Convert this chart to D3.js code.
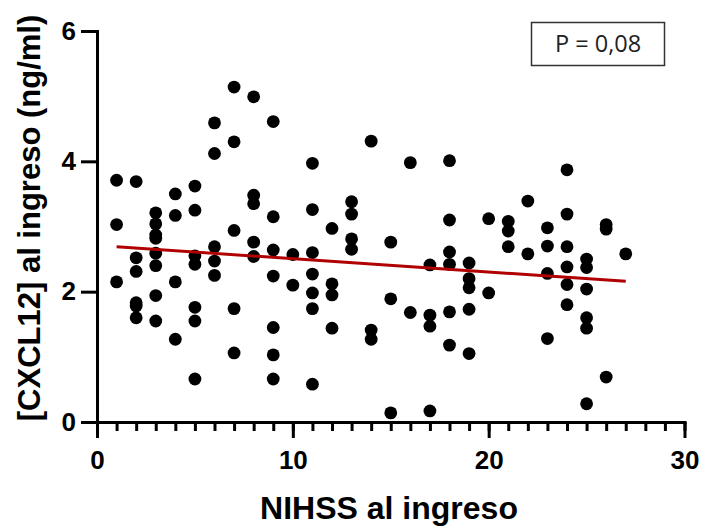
<!DOCTYPE html>
<html>
<head>
<meta charset="utf-8">
<script src="https://cdn.jsdelivr.net/npm/d3@7"></script>
<style>
  body { margin: 0; background: #fff; }
  svg { display: block; }
  .axis text { font-family: "Liberation Sans", Arial, sans-serif; font-weight: bold; font-size: 26px; fill: #000; }
  .axis path, .axis line { stroke: #000; stroke-width: 3; }
</style>
</head>
<body>
<div id="chart"></div>
<script>
// NIHSS score for each patient (x) and its CXCL12 level (y)
var nihss = [
  1, 1, 1,
  2, 2, 2, 2, 2, 2,
  3, 3, 3, 3, 3, 3, 3, 3,
  4, 4, 4, 4,
  5, 5, 5, 5, 5, 5, 5,
  6, 6, 6, 6, 6,
  7, 7, 7, 7, 7,
  8, 8, 8, 8, 8,
  9, 9, 9, 9, 9, 9, 9,
  10, 10,
  11, 11, 11, 11, 11, 11, 11,
  12, 12, 12, 12,
  13, 13, 13, 13,
  14, 14, 14,
  15, 15, 15,
  16, 16,
  17, 17, 17, 17,
  18, 18, 18, 18, 18, 18,
  19, 19, 19, 19, 19,
  20, 20,
  21, 21, 21,
  22, 22,
  23, 23, 23, 23,
  24, 24, 24, 24, 24, 24,
  25, 25, 25, 25, 25, 25,
  26, 26, 26,
  27
];
var cxcl12 = [
  3.71, 3.03, 2.15,
  3.69, 2.52, 2.31, 1.83, 1.78, 1.60,
  3.21, 3.04, 2.87, 2.82, 2.59, 2.40, 1.94, 1.55,
  3.50, 3.17, 2.15, 1.27,
  3.62, 3.25, 2.55, 2.42, 1.76, 1.55, 0.66,
  4.59, 4.12, 2.69, 2.47, 2.25,
  5.14, 4.30, 2.94, 1.74, 1.06,
  4.99, 3.48, 3.35, 2.76, 2.54,
  4.61, 3.15, 2.64, 2.24, 1.45, 1.03, 0.66,
  2.57, 2.10,
  3.97, 3.26, 2.60, 2.27, 1.98, 1.74, 0.58,
  2.97, 2.12, 1.95, 1.44,
  3.38, 3.19, 2.81, 2.65,
  4.31, 1.41, 1.27,
  2.76, 1.89, 0.14,
  3.98, 1.68,
  2.41, 1.64, 1.47, 0.17,
  4.01, 3.10, 2.61, 2.42, 1.69, 1.18,
  2.44, 2.20, 2.06, 1.73, 1.05,
  3.12, 1.98,
  3.08, 2.93, 2.69,
  3.39, 2.58,
  2.98, 2.70, 2.28, 1.28,
  3.87, 3.19, 2.69, 2.38, 2.11, 1.80,
  2.50, 2.37, 2.04, 1.60, 1.44, 0.28,
  3.03, 2.96, 0.69,
  2.58
];
// regression line ends
var fitX = [1, 27];
var fitY = [2.69, 2.16];

var xMajor = [0, 10, 20, 30];
var yMajor = [0, 2, 4, 6];
var pLabel = "P = 0,08";
var xTitle = "NIHSS al ingreso";
var yTitle = "[CXCL12] al ingreso (ng/ml)";

var width = 702, height = 526;

var svg = d3.select("#chart").append("svg")
    .attr("width", width)
    .attr("height", height);

var x = d3.scaleLinear().domain([0, 30]).range([97, 684.5]);
var y = d3.scaleLinear().domain([0, 6]).range([422, 31]);

// minor x ticks, one per unit
svg.append("g")
    .attr("class", "axis")
    .attr("transform", "translate(0,422)")
    .call(d3.axisBottom(x).tickValues(d3.range(0, 31)).tickSize(9).tickSizeOuter(0).tickFormat(""))
    .call(function(g){ g.select(".domain").attr("stroke-linecap", "square"); });

// major x ticks
svg.append("g")
    .attr("class", "axis")
    .attr("transform", "translate(0,422)")
    .call(d3.axisBottom(x).tickValues(xMajor).tickSize(16).tickSizeOuter(0).tickPadding(13).tickFormat(d3.format("d")))
    .call(function(g){ g.select(".domain").remove(); });

// y axis
svg.append("g")
    .attr("class", "axis")
    .attr("transform", "translate(97,0)")
    .call(d3.axisLeft(y).tickValues(yMajor).tickSize(16).tickSizeOuter(0).tickPadding(5).tickFormat(d3.format("d")))
    .call(function(g){ g.select(".domain").attr("stroke-linecap", "square"); });

// points
svg.append("g")
  .selectAll("circle")
    .data(nihss)
  .enter().append("circle")
    .attr("cx", function(d) { return x(d); })
    .attr("cy", function(d, i) { return y(cxcl12[i]); })
    .attr("r", 6.4)
    .attr("fill", "#000");

// fitted line
var line = d3.line()
    .x(function(d) { return x(d); })
    .y(function(d, i) { return y(fitY[i]); });

svg.append("path")
    .datum(fitX)
    .attr("d", line)
    .attr("fill", "none")
    .attr("stroke", "#b00000")
    .attr("stroke-width", 3);

// P value box
svg.append("rect")
    .attr("x", 531.5).attr("y", 22.5)
    .attr("width", 133).attr("height", 43)
    .attr("fill", "#fff")
    .attr("stroke", "#333")
    .attr("stroke-width", 1.5);

svg.append("text")
    .attr("x", 598).attr("y", 52)
    .attr("text-anchor", "middle")
    .style("font-family", "'Open Sans', 'Noto Sans', sans-serif")
    .style("font-size", "23.5px")
    .style("fill", "#222")
    .text(pLabel);

// axis titles
svg.append("text")
    .attr("x", 389).attr("y", 519)
    .attr("text-anchor", "middle")
    .style("font-family", "'Liberation Sans', Arial, sans-serif")
    .style("font-weight", "bold")
    .style("font-size", "32px")
    .text(xTitle);

svg.append("text")
    .attr("transform", "translate(40,218)rotate(-90)")
    .attr("text-anchor", "middle")
    .style("font-family", "'Liberation Sans', Arial, sans-serif")
    .style("font-weight", "bold")
    .style("font-size", "31px")
    .text(yTitle);
</script>
</body>
</html>
